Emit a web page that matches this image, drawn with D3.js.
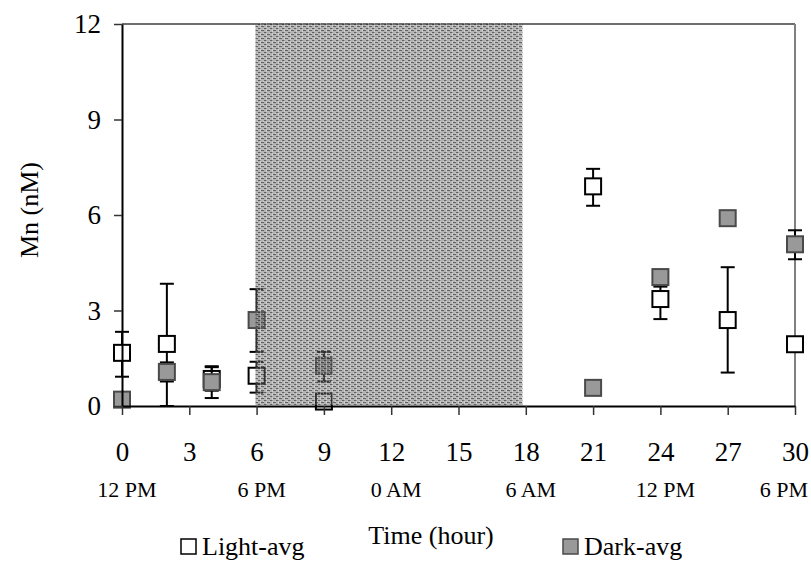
<!DOCTYPE html>
<html><head><meta charset="utf-8">
<script src="https://cdn.jsdelivr.net/npm/d3@7/dist/d3.min.js"></script>
<style>
body{margin:0;background:#fff}
svg{display:block}
svg text{font-family:"Times New Roman",Times,"Liberation Serif",Tinos,serif !important;fill:#000}
</style>
</head><body>
<svg id="c" width="811" height="561"></svg>
<script>
// ---- data ----
const hours      = [0, 2, 4, 6, 9, 21, 24, 27, 30];
const lightAvg   = [1.67, 1.95, 0.85, 0.95, 0.14, 6.90, 3.36, 2.70, 1.94];
const lightLow   = [0.92, 0.00, 0.48, 0.42, null, 6.29, 2.73, 1.05, 1.86];
const lightHigh  = [2.33, 3.84, 1.22, 1.39, null, 7.45, 3.75, 4.36, 2.02];
const darkAvg    = [0.20, 1.07, 0.75, 2.70, 1.26, 0.57, 4.05, 5.90, 5.08];
const darkLow    = [null, 0.77, 0.25, 1.70, 0.77, null, null, null, 4.61];
const darkHigh   = [null, 1.37, 1.25, 3.67, 1.70, null, null, null, 5.52];
const xTicks     = [0, 3, 6, 9, 12, 15, 18, 21, 24, 27, 30];
const yTicks     = [0, 3, 6, 9, 12];
const clockHours = [0, 6, 12, 18, 24, 30];
const clockLabels= ["12 PM", "6 PM", "0 AM", "6 AM", "12 PM", "6 PM"];
const darkPeriod = [5.95, 17.85];
const seriesNames= ["Light-avg", "Dark-avg"];

const FONT = "'Times New Roman', Times, 'Liberation Serif', serif";
const svg = d3.select("#c").attr("font-family", FONT);
const x = d3.scaleLinear().domain([0, 30]).range([122, 795]);
const y = d3.scaleLinear().domain([0, 12]).range([406, 24]);

// pattern for the dark period overlay
const defs = svg.append("defs");
const pat = defs.append("pattern").attr("id","shade").attr("patternUnits","userSpaceOnUse")
  .attr("width",6).attr("height",4);
pat.append("rect").attr("width",6).attr("height",4).attr("fill","rgba(105,105,105,0.5)");
pat.append("rect").attr("x",0).attr("y",0).attr("width",3).attr("height",1).attr("fill","rgba(30,30,30,0.55)");
pat.append("rect").attr("x",3).attr("y",2).attr("width",3).attr("height",1).attr("fill","rgba(30,30,30,0.55)");
pat.append("rect").attr("x",2).attr("y",0).attr("width",1).attr("height",4).attr("fill","rgba(255,255,255,0.35)");
pat.append("rect").attr("x",5).attr("y",1).attr("width",1).attr("height",1).attr("fill","rgba(255,255,255,0.4)");

// plot frame (top & right)
svg.append("line").attr("x1",x(0)).attr("x2",x(30)).attr("y1",y(12)).attr("y2",y(12))
  .attr("stroke","#6e6e6e").attr("stroke-width",2);
svg.append("line").attr("x1",x(30)).attr("x2",x(30)).attr("y1",y(12)).attr("y2",y(0))
  .attr("stroke","#808080").attr("stroke-width",2);

function errorBars(avg, lo, hi){
  const g = svg.append("g").attr("stroke","#000").attr("stroke-width",2);
  hours.forEach((h,i)=>{
    if(lo[i]==null) return;
    const cx = x(h);
    g.append("line").attr("x1",cx).attr("x2",cx).attr("y1",y(lo[i])).attr("y2",y(hi[i]));
    g.append("line").attr("x1",cx-7).attr("x2",cx+7).attr("y1",y(lo[i])).attr("y2",y(lo[i]));
    g.append("line").attr("x1",cx-7).attr("x2",cx+7).attr("y1",y(hi[i])).attr("y2",y(hi[i]));
  });
}
function markers(avg, fill, stroke){
  svg.append("g").selectAll("rect").data(hours).join("rect")
    .attr("x",(h)=>x(h)-8).attr("y",(h,i)=>y(avg[i])-8)
    .attr("width",16).attr("height",16)
    .attr("fill",fill).attr("stroke",stroke).attr("stroke-width",2);
}
errorBars(lightAvg, lightLow, lightHigh);
markers(lightAvg, "#fff", "#000");
errorBars(darkAvg, darkLow, darkHigh);
markers(darkAvg, "#999999", "#4a4a4a");

// dark-period overlay
svg.append("rect").attr("x",x(darkPeriod[0])).attr("y",y(12)-1)
  .attr("width",x(darkPeriod[1])-x(darkPeriod[0])).attr("height",y(0)-y(12))
  .attr("fill","url(#shade)");

// axes
const yAxis = svg.append("g").attr("transform",`translate(${x(0)},0)`)
  .call(d3.axisLeft(y).tickValues(yTicks).tickSize(8).tickSizeOuter(0).tickPadding(13));
const xAxis = svg.append("g").attr("transform",`translate(0,${y(0)})`)
  .call(d3.axisBottom(x).tickValues(xTicks).tickSize(9).tickSizeOuter(0).tickPadding(27));
[yAxis,xAxis].forEach(a=>{
  a.attr("font-family", FONT).attr("font-size", 27);
  a.selectAll("text").attr("font-family", FONT).style("font-size","27px");
  a.select(".domain").attr("stroke","#000").attr("stroke-width",2);
  a.selectAll(".tick line").attr("stroke","#333").attr("stroke-width",1.5);
});

// clock-time labels
svg.append("g").selectAll("text").data(clockHours).join("text")
  .attr("x",(h,i)=> i===clockHours.length-1 ? 808 : x(h)+5)
  .attr("y",497)
  .attr("text-anchor",(h,i)=> i===clockHours.length-1 ? "end" : "middle")
  .attr("font-family", FONT)
  .style("font-size","22px")
  .text((h,i)=>clockLabels[i]);

// axis titles
svg.append("text").attr("x",431).attr("y",544).attr("text-anchor","middle")
  .attr("font-family", FONT).style("font-size","26px").text("Time (hour)");
svg.append("text").attr("transform","translate(38,210) rotate(-90)").attr("text-anchor","middle")
  .attr("font-family", FONT).style("font-size","26px").text("Mn (nM)");

// legend
const legend = [
  {name: seriesNames[0], bx: 181, fill: "#fff", stroke: "#000"},
  {name: seriesNames[1], bx: 563, fill: "#999999", stroke: "#4a4a4a"}
];
legend.forEach(l=>{
  svg.append("rect").attr("x",l.bx).attr("y",539).attr("width",15).attr("height",15)
    .attr("fill",l.fill).attr("stroke",l.stroke).attr("stroke-width",1.5);
  svg.append("text").attr("x",l.bx+21).attr("y",555).attr("font-family", FONT)
    .style("font-size","26px").text(l.name);
});
</script>
</body></html>
